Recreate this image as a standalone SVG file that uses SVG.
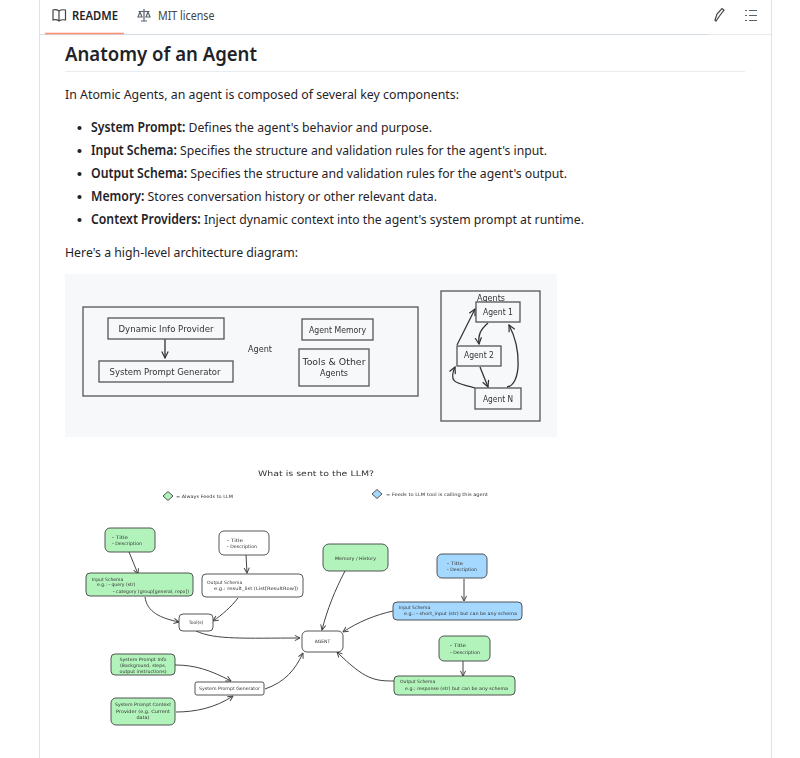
<svg xmlns="http://www.w3.org/2000/svg" width="800" height="758" viewBox="0 0 800 758">
<style>
text{font-family:"Noto Sans","Open Sans","Liberation Sans",sans-serif;fill:#1f2328}
.p{font-size:13.4px}
.b{font-weight:600}
.h{font-family:"DejaVu Sans",sans-serif;fill:#333}
.big{font-size:8.5px}
.sm{font-size:4.5px}
.box{fill:none;stroke:#555;stroke-width:1.3}
.n{stroke:#444;stroke-width:.9}
.g{fill:#b2f2bb}.bl{fill:#a5d8ff}.w{fill:#fff}
.c{fill:none;stroke:#333;stroke-width:1.3;marker-end:url(#a)}
.c2{fill:none;stroke:#444;stroke-width:1;marker-end:url(#a2)}
.i{fill:none;stroke:#59636e;stroke-width:1.2}
</style>
<defs>
<marker id="a" viewBox="0 0 10 10" refX="9" refY="5" markerWidth="8" markerHeight="8" markerUnits="userSpaceOnUse" orient="auto"><path d="M1 1L9 5L1 9" fill="none" stroke="#333" stroke-width="1.500"/></marker>
<marker id="a2" viewBox="0 0 10 10" refX="9" refY="5" markerWidth="6.500" markerHeight="6.500" markerUnits="userSpaceOnUse" orient="auto"><path d="M1 1L9 5L1 9" fill="none" stroke="#444" stroke-width="1.500"/></marker>
<filter id="s" x="-2%" y="-2%" width="104%" height="104%"><feGaussianBlur stdDeviation="0.35"/></filter>
</defs>
<rect width="800" height="758" fill="#fff"/>
<g id="page">
<path d="M39.500 0V758M771.500 0V758" stroke="#dfe3e8" fill="none"/>
<path d="M39 34.500H708" stroke="#d5dbe3" stroke-width="1.2"/>
<path d="M708 34.500H771" stroke="#e6e9ee"/>
<path d="M45 33.500H124" stroke="#fd8c73" stroke-width="1.6"/>
<path d="M65 71.500H745" stroke="#e8ebef"/>
<path class="i" style="stroke:#444" d="M59 11C57 9.500 55 9.500 53 10V20C55 19.500 57 19.500 59 21C61 19.500 63 19.500 65.500 20V10C63 9.500 61 9.500 59 11V21"/>
<path class="i" d="M144 9V21M141 21H147M138.500 11.500H149.500M140 12L138 17H142ZM148 12L146 17H150Z"/>
<text x="72" y="19.500" font-size="11.800" class="b" textLength="46" lengthAdjust="spacingAndGlyphs">README</text>
<text x="158" y="19.500" font-size="11.800" textLength="56.500" lengthAdjust="spacingAndGlyphs" style="fill:#444">MIT license</text>
<path class="i" style="stroke:#444" d="M715 20L717 14L722 8.500L724 10L719.500 16L716 21Z"/>
<path class="i" d="M745 10.500H747M745 15.500H747M745 20.500H747M749 10.500H757M749 15.500H757M749 20.500H757"/>
<text x="65" y="61" font-size="20" class="b" textLength="192" lengthAdjust="spacingAndGlyphs">Anatomy of an Agent</text>
<text x="65" y="99" class="p" textLength="394" lengthAdjust="spacingAndGlyphs">In Atomic Agents, an agent is composed of several key components:</text>
<g fill="#1f2328"><circle cx="79.500" cy="128" r="2.100"/><circle cx="79.500" cy="151" r="2.100"/><circle cx="79.500" cy="174" r="2.100"/><circle cx="79.500" cy="197" r="2.100"/><circle cx="79.500" cy="220" r="2.100"/></g>
<text x="91" y="132" class="p" textLength="341" lengthAdjust="spacingAndGlyphs"><tspan class="b">System Prompt:</tspan> Defines the agent's behavior and purpose.</text>
<text x="91" y="155" class="p" textLength="456" lengthAdjust="spacingAndGlyphs"><tspan class="b">Input Schema:</tspan> Specifies the structure and validation rules for the agent's input.</text>
<text x="91" y="178" class="p" textLength="476" lengthAdjust="spacingAndGlyphs"><tspan class="b">Output Schema:</tspan> Specifies the structure and validation rules for the agent's output.</text>
<text x="91" y="201" class="p" textLength="346" lengthAdjust="spacingAndGlyphs"><tspan class="b">Memory:</tspan> Stores conversation history or other relevant data.</text>
<text x="91" y="224" class="p" textLength="493" lengthAdjust="spacingAndGlyphs"><tspan class="b">Context Providers:</tspan> Inject dynamic context into the agent's system prompt at runtime.</text>
<text x="65" y="257" class="p" textLength="233" lengthAdjust="spacingAndGlyphs">Here's a high-level architecture diagram:</text>
</g>
<rect x="65" y="274" width="492" height="163" fill="#f7f8fa"/>
<g filter="url(#s)">
<g id="top-connectors">
<path class="c" d="M165 339V358"/>
<path class="c" d="M457 345L475 309"/>
<path class="c" d="M488 323C480 330 478 335 479 344"/>
<path class="c" d="M480 367L488 387"/>
<path class="c" d="M475 388C460 383 447 385 455 367"/>
<path class="c" d="M507 387C521 385 522 350 509 325"/>
</g>
<g id="agent-box"><rect class="box" x="83" y="307" width="335" height="89"/><text class="h big" x="260" y="352" text-anchor="middle" textLength="24" lengthAdjust="spacingAndGlyphs">Agent</text></g>
<g id="dynamic-info"><rect class="box" x="108" y="318" width="116" height="21"/><text class="h big" x="166" y="331.500" text-anchor="middle" textLength="95" lengthAdjust="spacingAndGlyphs">Dynamic Info Provider</text></g>
<g id="system-prompt-gen"><rect class="box" x="99" y="361" width="134" height="21"/><text class="h big" x="165" y="374.500" text-anchor="middle" textLength="111" lengthAdjust="spacingAndGlyphs">System Prompt Generator</text></g>
<g id="agent-memory"><rect class="box" x="302" y="319" width="71" height="21"/><text class="h big" x="337.500" y="332.500" text-anchor="middle" textLength="57" lengthAdjust="spacingAndGlyphs">Agent Memory</text></g>
<g id="tools"><rect class="box" x="299" y="349" width="70" height="37"/><text class="h big" x="334" y="365" text-anchor="middle" textLength="63" lengthAdjust="spacingAndGlyphs">Tools &amp; Other</text><text class="h big" x="334" y="376" text-anchor="middle" textLength="28" lengthAdjust="spacingAndGlyphs">Agents</text></g>
<g id="agents-box"><rect class="box" x="441" y="291" width="99" height="130"/><text class="h big" x="491" y="301" text-anchor="middle" textLength="28" lengthAdjust="spacingAndGlyphs">Agents</text></g>
<g id="agent-1"><rect class="box" x="476" y="302" width="44" height="20" style="fill:#f7f8fa"/><text class="h big" x="498" y="315" text-anchor="middle" textLength="30" lengthAdjust="spacingAndGlyphs">Agent 1</text></g>
<g id="agent-2"><rect class="box" x="457" y="346" width="44" height="20" style="fill:#f7f8fa"/><text class="h big" x="479" y="358" text-anchor="middle" textLength="30" lengthAdjust="spacingAndGlyphs">Agent 2</text></g>
<g id="agent-n"><rect class="box" x="475" y="388" width="46" height="21" style="fill:#f7f8fa"/><text class="h big" x="498" y="402" text-anchor="middle" textLength="30" lengthAdjust="spacingAndGlyphs">Agent N</text></g>

<g id="title"><text class="h" font-size="7.500" x="258" y="476" textLength="116" lengthAdjust="spacingAndGlyphs">What is sent to the LLM?</text></g>
<g id="legend-green"><path class="n g" d="M168 491.500L173 496L168 500.500L163 496Z"/><text class="h sm" x="176" y="497.500" textLength="57" lengthAdjust="spacingAndGlyphs">= Always Feeds to LLM</text></g>
<g id="legend-blue"><path class="n bl" d="M377 489.500L382 494L377 498.500L372 494Z"/><text class="h sm" x="386" y="495.500" textLength="102" lengthAdjust="spacingAndGlyphs">= Feeds to LLM tool is calling this agent</text></g>

<g id="connectors">
<path class="c2" d="M129 552L138 574"/>
<path class="c2" d="M246 555L247 573"/>
<path class="c2" d="M145 597C147 612 160 618 179 622"/>
<path class="c2" d="M238 598C232 606 222 615 213 621"/>
<path class="c2" d="M196 631C215 640 245 638 300 638"/>
<path class="c2" d="M345 571C335 590 327 610 322 630"/>
<path class="c2" d="M464 579V601"/>
<path class="c2" d="M393 611C375 615 358 622 343 632"/>
<path class="c2" d="M463 661V676"/>
<path class="c2" d="M394 681C375 681 365 680 337 652"/>
<path class="c2" d="M175 665C195 665 210 670 231 681"/>
<path class="c2" d="M176 712C195 712 215 708 233 696"/>
<path class="c2" d="M265 689C285 682 295 670 303 653"/>
</g>
<g id="title-green"><rect class="n g" x="105" y="528" width="50" height="24" rx="5"/><text class="h sm" x="112" y="538.500" textLength="16" lengthAdjust="spacingAndGlyphs">- Title</text><text class="h sm" x="112" y="545" textLength="30" lengthAdjust="spacingAndGlyphs">- Description</text></g>
<g id="title-white"><rect class="n w" x="219" y="531" width="50" height="24" rx="5"/><text class="h sm" x="227" y="541.500" textLength="16" lengthAdjust="spacingAndGlyphs">- Title</text><text class="h sm" x="227" y="547.500" textLength="30" lengthAdjust="spacingAndGlyphs">- Description</text></g>
<g id="input-green"><rect class="n g" x="86" y="573" width="107" height="23" rx="4"/><text class="h sm" x="92" y="580.500">Input Schema</text><text class="h sm" x="97" y="586">e.g.: - query (str)</text><text class="h sm" x="113" y="592.500" textLength="76" lengthAdjust="spacingAndGlyphs">- category (group[general, repo])</text></g>
<g id="output-white"><rect class="n w" x="202" y="574" width="101" height="23" rx="4"/><text class="h sm" x="207" y="583.500">Output Schema</text><text class="h sm" x="214" y="589.500" textLength="84" lengthAdjust="spacingAndGlyphs">e.g.: result_list (List[ResultRow])</text></g>
<g id="memory"><rect class="n g" x="323" y="544" width="65" height="27" rx="6"/><text class="h sm" x="355.500" y="559.500" text-anchor="middle" textLength="41" lengthAdjust="spacingAndGlyphs">Memory / History</text></g>
<g id="title-blue"><rect class="n bl" x="437" y="554" width="50" height="24" rx="5"/><text class="h sm" x="447" y="564.500" textLength="16" lengthAdjust="spacingAndGlyphs">- Title</text><text class="h sm" x="447" y="571" textLength="30" lengthAdjust="spacingAndGlyphs">- Description</text></g>
<g id="input-blue"><rect class="n bl" x="393" y="602" width="129" height="18" rx="4"/><text class="h sm" x="399" y="608.500">Input Schema</text><text class="h sm" x="404" y="615" textLength="113" lengthAdjust="spacingAndGlyphs">e.g.: - short_input (str) but can be any schema</text></g>
<g id="tools-node"><rect class="n w" x="179" y="614" width="34" height="17" rx="4"/><text class="h sm" x="196" y="624" text-anchor="middle">Tool(s)</text></g>
<g id="agent"><rect class="n w" x="302" y="631" width="41" height="21" rx="5"/><text class="h sm" x="322.500" y="643" text-anchor="middle">AGENT</text></g>
<g id="title-green-2"><rect class="n g" x="439" y="636" width="51" height="25" rx="5"/><text class="h sm" x="450" y="647" textLength="16" lengthAdjust="spacingAndGlyphs">- Title</text><text class="h sm" x="450" y="653.500" textLength="30" lengthAdjust="spacingAndGlyphs">- Description</text></g>
<g id="output-green"><rect class="n g" x="394" y="676" width="121" height="19" rx="4"/><text class="h sm" x="400" y="683">Output Schema</text><text class="h sm" x="405" y="689.500" textLength="103" lengthAdjust="spacingAndGlyphs">e.g.: response (str) but can be any schema</text></g>
<g id="sp-info"><rect class="n g" x="111" y="654" width="64" height="21" rx="4"/><g text-anchor="middle"><text class="h sm" x="143" y="660.500" textLength="47" lengthAdjust="spacingAndGlyphs">System Prompt Info</text><text class="h sm" x="143" y="666.500" textLength="46" lengthAdjust="spacingAndGlyphs">(Background, steps,</text><text class="h sm" x="143" y="672.500" textLength="47" lengthAdjust="spacingAndGlyphs">output instructions)</text></g></g>
<g id="sp-context"><rect class="n g" x="111" y="698" width="64" height="27" rx="5"/><g text-anchor="middle"><text class="h sm" x="143" y="706" textLength="56" lengthAdjust="spacingAndGlyphs">System Prompt Context</text><text class="h sm" x="143" y="712.500" textLength="54" lengthAdjust="spacingAndGlyphs">Provider (e.g. Current</text><text class="h sm" x="143" y="719" textLength="13" lengthAdjust="spacingAndGlyphs">data)</text></g></g>
<g id="sp-generator"><rect class="n w" x="195" y="682" width="69" height="13" rx="2"/><text class="h sm" x="229.500" y="690" text-anchor="middle" textLength="61" lengthAdjust="spacingAndGlyphs">System Prompt Generator</text></g>
</g>
</svg>
